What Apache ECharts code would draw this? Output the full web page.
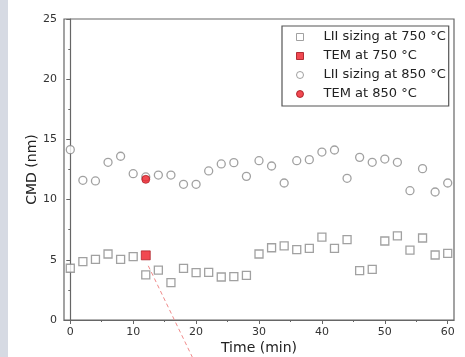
<!DOCTYPE html>
<html>
<head>
<meta charset="utf-8">
<script src="https://cdn.jsdelivr.net/npm/echarts@6/dist/echarts.min.js"></script>
<style>
html,body{margin:0;padding:0;background:#fff;}
#strip{position:absolute;left:0;top:0;width:8px;height:357px;background:#d6dae3;}
#c{position:absolute;left:0;top:0;width:465px;height:357px;}
</style>
</head>
<body>
<div id="strip"></div>
<div id="c"></div>
<script>
const times = [0,2,4,6,8,10,12,14,16,18,20,22,24,26,28,30,32,34,36,38,40,42,44,46,48,50,52,54,56,58,60];
const lii750 = [4.3,4.85,5.04,5.48,5.04,5.26,3.74,4.15,3.1,4.29,3.93,3.96,3.57,3.6,3.71,5.48,6.0,6.15,5.84,5.95,6.89,5.95,6.67,4.1,4.21,6.56,6.98,5.81,6.81,5.4,5.54];
const lii850 = [14.15,11.6,11.55,13.1,13.6,12.15,11.88,12.04,12.04,11.27,11.27,12.38,12.96,13.07,11.93,13.23,12.79,11.38,13.23,13.32,13.95,14.12,11.77,13.51,13.1,13.37,13.1,10.74,12.57,10.63,11.38];
const tem750 = [[12, 5.37]];
const tem850 = [[12, 11.68]];
const guideLine = [[12.4, 4.5], [19.6, -3.3]];
const xMajor = [0,10,20,30,40,50,60];
const xMinor = [5,15,25,35,45,55];
const names = ['LII sizing at 750 \u00b0C','TEM at 750 \u00b0C','LII sizing at 850 \u00b0C','TEM at 850 \u00b0C'];

const pair = (ys) => times.map((t,i)=>[t, ys[i]]);
const font = 'DejaVu Sans';
const chart = echarts.init(document.getElementById('c'), null, {renderer:'canvas'});
chart.setOption({
  animation:false,
  backgroundColor:'transparent',
  textStyle:{fontFamily:font},
  grid:{left:64, top:19, right:11, bottom:37, show:true, borderColor:'#666', borderWidth:1.2, backgroundColor:'#fff',
        containLabel:false, outerBoundsMode:'none'},
  legend:{
    data:names, orient:'vertical', left:282, top:26,
    padding:[4,3,5,14], itemGap:5, itemWidth:7, itemHeight:7,
    borderColor:'#555', borderWidth:1.2, borderRadius:0, backgroundColor:'#fff',
    itemStyle:{borderWidth:1},
    textStyle:{fontFamily:font, fontSize:13, color:'#222', lineHeight:14, padding:[0,0,0,15]}
  },
  xAxis:[{
    type:'value', min:-1, max:61,
    axisLine:{show:true, lineStyle:{color:'#666', width:1.2}},
    axisTick:{show:true, customValues:xMajor, length:4, inside:false, lineStyle:{color:'#666'}},
    axisLabel:{customValues:xMajor, fontSize:11, color:'#333', margin:7, fontFamily:font},
    splitLine:{show:false},
    name:'Time (min)', nameLocation:'middle', nameGap:21, nameMoveOverlap:false,
    nameTextStyle:{fontSize:14, color:'#222', fontFamily:font}
  },{
    type:'value', min:-1, max:61, position:'bottom', gridIndex:0,
    axisLine:{show:false},
    axisTick:{show:true, customValues:xMinor, length:2, lineStyle:{color:'#666'}},
    axisLabel:{show:false}, splitLine:{show:false}
  }],
  yAxis:{
    type:'value', min:0, max:25, interval:5,
    axisLine:{show:true, lineStyle:{color:'#666', width:1.2}},
    axisTick:{show:true, length:4, lineStyle:{color:'#666'}},
    minorTick:{show:true, splitNumber:2, length:2, lineStyle:{color:'#666'}},
    axisLabel:{fontSize:11, color:'#333', margin:7, fontFamily:font},
    splitLine:{show:false},
    name:'CMD (nm)', nameLocation:'middle', nameGap:25, nameMoveOverlap:false,
    nameTextStyle:{fontSize:14, color:'#222', fontFamily:font}
  },
  series:[
    {name:'guide', type:'line', data:guideLine, clip:false, symbol:'none', silent:true,
     lineStyle:{color:'#f08a8a', width:1, type:[4,3]}, z:1},
    {name:names[0], type:'scatter', data:pair(lii750), symbol:'rect', symbolSize:8,
     itemStyle:{color:'#fff', borderColor:'#8a8a8a', borderWidth:1.3}, z:2},
    {name:names[1], type:'scatter', data:tem750, symbol:'rect', symbolSize:9,
     itemStyle:{color:'#ee1c25', borderColor:'#a01018', borderWidth:0.8}, z:3},
    {name:names[2], type:'scatter', data:pair(lii850), symbol:'circle', symbolSize:8,
     itemStyle:{color:'#fff', borderColor:'#8a8a8a', borderWidth:1.3}, z:2},
    {name:names[3], type:'scatter', data:tem850, symbol:'circle', symbolSize:8,
     itemStyle:{color:'#ee1c25', borderColor:'#a01018', borderWidth:0.8}, z:3}
  ]
});
</script>
</body>
</html>
